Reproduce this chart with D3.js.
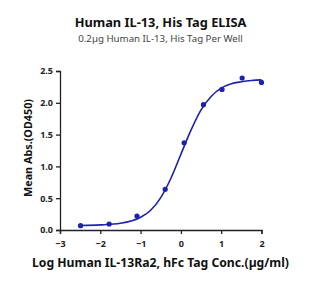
<!DOCTYPE html>
<html>
<head>
<meta charset="utf-8">
<script src="https://cdn.jsdelivr.net/npm/d3@7"></script>
<style>
  body { margin: 0; background: #fff; }
  svg { display: block; font-family: "Noto Sans", "Open Sans", sans-serif; }
</style>
</head>
<body>
<svg id="chart" width="335" height="289"></svg>
<script>
// measured points (log conc, OD450)
const logConc = [-2.49, -1.78, -1.09, -0.39, 0.08, 0.56, 1.02, 1.52, 2.0];
const meanAbs = [0.068, 0.094, 0.22, 0.64, 1.37, 1.97, 2.21, 2.39, 2.32];

// fitted curve
const curveX = [-2.5, -2, -1.5, -1, -0.75, -0.5, -0.25, 0, 0.25, 0.5, 0.75, 1, 1.25, 1.5, 1.75, 2];
const curveY = [0.07, 0.08, 0.105, 0.2, 0.31, 0.51, 0.81, 1.19, 1.57, 1.89, 2.1, 2.23, 2.3, 2.33, 2.35, 2.36];

const xTicks = [-3, -2, -1, 0, 1, 2];
const yTicks = [0, 0.5, 1.0, 1.5, 2.0, 2.5];

const titleText = "Human IL-13, His Tag ELISA";
const subtitleText = "0.2\u00b5g Human IL-13, His Tag Per Well";
const xLabel = "Log Human IL-13Ra2, hFc Tag Conc.(\u00b5g/ml)";
const yLabel = "Mean Abs.(OD450)";

const svg = d3.select("#chart");
const color = "#1f1fb0";

const x = d3.scaleLinear().domain([-3, 2]).range([60, 261.5]);
const y = d3.scaleLinear().domain([0, 2.5]).range([230, 71]);

// axes
const xAxis = svg.append("g")
  .attr("transform", `translate(0,${y(0)})`)
  .call(d3.axisBottom(x).tickValues(xTicks).tickFormat(d3.format("d")).tickSize(4));
const yAxis = svg.append("g")
  .attr("transform", `translate(${x(-3)},0)`)
  .call(d3.axisLeft(y).tickValues(yTicks).tickFormat(d3.format(".1f")).tickSize(4));

[xAxis, yAxis].forEach(g => {
  g.select(".domain").attr("stroke", "#222").attr("stroke-width", 1.3);
  g.selectAll(".tick line").attr("stroke", "#222").attr("stroke-width", 1.3);
  g.selectAll(".tick text")
    .attr("fill", "#222")
    .style("font-size", "9px")
    .style("font-weight", "bold")
    .style("font-family", "'Noto Sans', sans-serif");
});
xAxis.selectAll(".tick text").attr("dy", "1.1em");

// fitted curve
const line = d3.line()
  .x((d, i) => x(curveX[i]))
  .y(d => y(d))
  .curve(d3.curveMonotoneX);

svg.append("path")
  .attr("d", line(curveY))
  .attr("fill", "none")
  .attr("stroke", color)
  .attr("stroke-width", 1.6);

// points
svg.append("g").selectAll("circle")
  .data(meanAbs)
  .join("circle")
  .attr("cx", (d, i) => x(logConc[i]))
  .attr("cy", d => y(d))
  .attr("r", 2.6)
  .attr("fill", color);

// titles
svg.append("text")
  .attr("x", 160.5).attr("y", 27)
  .attr("text-anchor", "middle")
  .style("font-size", "12.8px").style("font-weight", "bold")
  .attr("fill", "#111")
  .text(titleText);

svg.append("text")
  .attr("x", 160.5).attr("y", 41.5)
  .attr("text-anchor", "middle")
  .style("font-size", "9.7px")
  .attr("fill", "#444")
  .text(subtitleText);

svg.append("text")
  .attr("x", 160.5).attr("y", 267)
  .attr("text-anchor", "middle")
  .style("font-size", "12.2px").style("font-weight", "bold")
  .attr("fill", "#111")
  .text(xLabel);

svg.append("text")
  .attr("transform", "translate(32,148) rotate(-90)")
  .attr("text-anchor", "middle")
  .style("font-size", "10.8px").style("font-weight", "bold")
  .attr("fill", "#111")
  .text(yLabel);
</script>
</body>
</html>
